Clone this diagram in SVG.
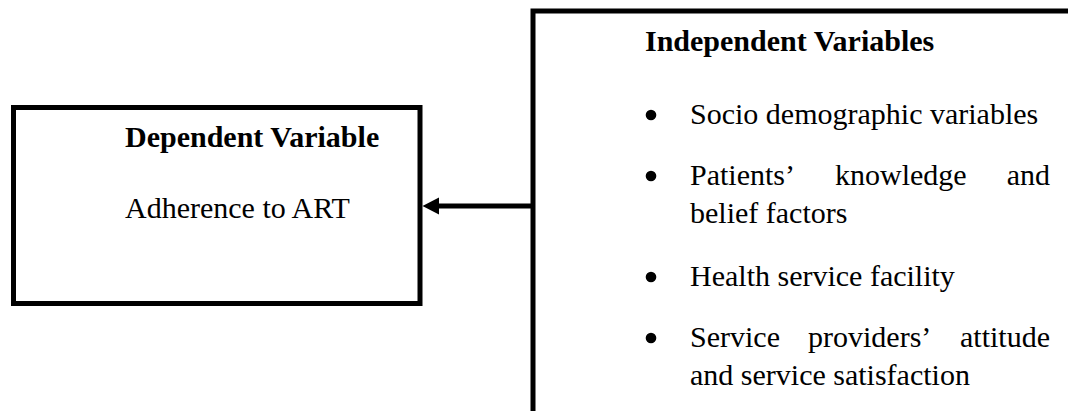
<svg xmlns="http://www.w3.org/2000/svg" width="1068" height="411" viewBox="0 0 1068 411">
<style>
.box{fill:none;stroke:#000;stroke-width:5}
.t{font-family:"Liberation Serif","Times New Roman",serif;font-size:30px;fill:#000}
.b{font-weight:bold}
.conn{stroke:#000;stroke-width:5;fill:none}
</style>
<rect width="1068" height="411" fill="#fff"/>
<g id="dependent">
<rect class="box" x="13.5" y="107.5" width="406.5" height="196"/>
<text class="t b" x="125" y="147">Dependent Variable</text>
<text class="t" x="125" y="218">Adherence to ART</text>
</g>
<g id="independent">
<rect class="box" x="533" y="11" width="600" height="500"/>
<text class="t b" x="645" y="51">Independent Variables</text>
<circle cx="651" cy="115" r="5.3"/>
<text class="t" x="690" y="124">Socio demographic variables</text>
<circle cx="651" cy="176" r="5.3"/>
<text class="t" y="185"><tspan x="690">Patients’</tspan><tspan x="835">knowledge</tspan><tspan x="1050" text-anchor="end">and</tspan></text>
<text class="t" x="690" y="223">belief factors</text>
<circle cx="651" cy="277" r="5.3"/>
<text class="t" x="690" y="286">Health service facility</text>
<circle cx="651" cy="338" r="5.3"/>
<text class="t" y="347"><tspan x="690">Service</tspan><tspan x="808">providers’</tspan><tspan x="1050" text-anchor="end">attitude</tspan></text>
<text class="t" x="690" y="385">and service satisfaction</text>
</g>
<g id="connectors">
<line class="conn" x1="533" y1="206" x2="436" y2="206"/>
<polygon points="422.5,206 439,197.5 439,214.5" fill="#000"/>
</g>
</svg>
